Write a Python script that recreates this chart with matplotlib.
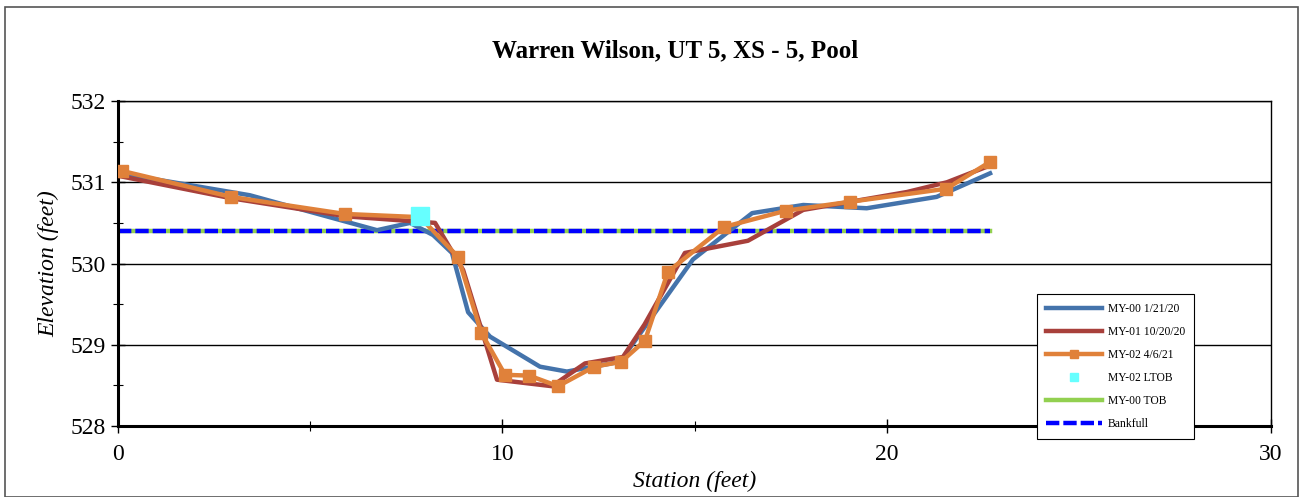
import matplotlib.pyplot as plt
from matplotlib.patches import Rectangle
from matplotlib.ticker import MultipleLocator

plt.rcParams['font.family'] = ['Liberation Serif', 'DejaVu Serif']

# MY-00 1/21/20
x00 = [0.0, 1.43, 3.43, 6.74, 7.6, 8.2, 8.69, 9.11, 9.68, 10.98, 11.68, 13.06, 14.96, 16.5, 17.83, 19.48, 21.3, 22.69]
y00 = [531.11, 531.0, 530.84, 530.41, 530.5, 530.35, 530.13, 529.4, 529.1, 528.73, 528.67, 528.79, 530.05, 530.62, 530.72, 530.68, 530.82, 531.11]

# MY-01 10/20/20
x01 = [0.0, 2.98, 5.95, 8.25, 8.98, 9.86, 11.29, 12.15, 13.14, 13.7, 14.75, 16.39, 17.83, 20.53, 21.57, 22.6]
y01 = [531.08, 530.8, 530.58, 530.5, 529.92, 528.57, 528.49, 528.77, 528.85, 529.25, 530.13, 530.28, 530.66, 530.88, 531.0, 531.19]

# MY-02 4/6/21
x02 = [0.1, 2.94, 5.9, 7.86, 8.85, 9.45, 10.07, 10.7, 11.45, 12.39, 13.09, 13.71, 14.31, 15.77, 17.38, 19.05, 21.55, 22.69]
y02 = [531.14, 530.82, 530.61, 530.57, 530.08, 529.15, 528.63, 528.62, 528.49, 528.73, 528.79, 529.05, 529.9, 530.45, 530.65, 530.76, 530.92, 531.25]

# MY-02 LTOB
x_ltob = [7.86]
y_ltob = [530.58]

# MY-00 TOB and bankfull
x_bkf = [0.0, 22.69]
y_tob = [530.4, 530.4]
y_bkf = [530.4, 530.4]

fig = plt.figure(figsize=(13.01, 4.97), dpi=100)
fig.patches.append(Rectangle((0.004, 0.0), 0.994, 0.985, transform=fig.transFigure,
                             fill=False, edgecolor='#555555', lw=1.2))
ax = fig.add_axes([118/1301, 1 - 426/497, 1153/1301, 325/497])

ax.plot(x00, y00, color='#4473AB', lw=3.2, label='MY-00 1/21/20', zorder=3)
ax.plot(x01, y01, color='#A8403B', lw=3.2, label='MY-01 10/20/20', zorder=4)
ax.plot(x02, y02, color='#E0813A', lw=3.2, marker='s', ms=8, label='MY-02 4/6/21', zorder=5)
ax.plot(x_ltob, y_ltob, ls='none', marker='s', ms=13, color='#66FFFF', label='MY-02 LTOB', zorder=6)
ax.plot(x_bkf, y_tob, color='#92D050', lw=3.2, label='MY-00 TOB', zorder=2)
ax.plot(x_bkf, y_bkf, color='#0000FF', lw=3.2, ls=(0, (3, 0.9)), label='Bankfull', zorder=2.5)

ax.set_xlim(0, 30)
ax.set_ylim(528, 532)
ax.xaxis.set_major_locator(MultipleLocator(10))
ax.xaxis.set_minor_locator(MultipleLocator(5))
ax.yaxis.set_major_locator(MultipleLocator(1))
ax.yaxis.set_minor_locator(MultipleLocator(0.5))
ax.tick_params(axis='both', which='major', direction='inout', length=10, labelsize=17, width=1)
ax.tick_params(axis='both', which='minor', direction='inout', length=7, width=0.8)
ax.tick_params(axis='x', pad=8)
ax.yaxis.grid(True, which='major', color='black', lw=1)
ax.set_axisbelow(True)
for s in ['left', 'bottom']:
    ax.spines[s].set_linewidth(2.2)
for s in ['top', 'right']:
    ax.spines[s].set_linewidth(1.0)

fig.text(675/1301, 1 - 51/497, 'Warren Wilson, UT 5, XS - 5, Pool', fontsize=18,
         fontweight='bold', ha='center', va='center')
ax.set_xlabel('Station (feet)', fontsize=17, style='italic', labelpad=4)
ax.set_ylabel('Elevation (feet)', fontsize=17, style='italic', labelpad=8)

leg = ax.legend(loc='upper left', bbox_to_anchor=(0.797, 0.406), fontsize=8.4, frameon=True,
                fancybox=False, edgecolor='black', framealpha=1, handlelength=4.8,
                labelspacing=0.95, borderpad=0.75, handletextpad=0.5, borderaxespad=0)
leg.get_frame().set_linewidth(0.8)
leg.set_zorder(10)
leg.legend_handles[2].set_markersize(6)
leg.legend_handles[3].set_markersize(6)

fig.savefig('out.png', dpi=100)
